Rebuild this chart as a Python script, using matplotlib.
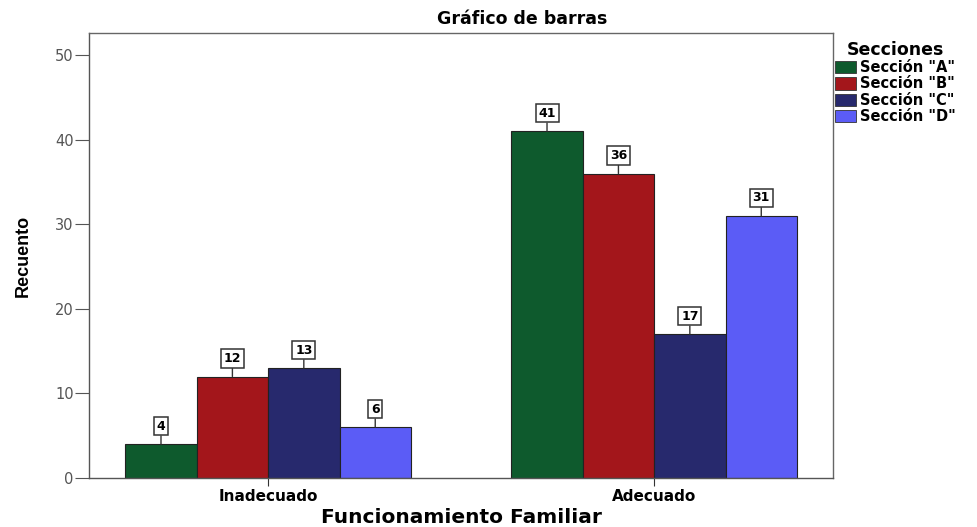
import numpy as np
import matplotlib
matplotlib.use("Agg")
import matplotlib.pyplot as plt
from matplotlib.patches import Patch

plt.rcParams['font.family'] = ['DejaVu Sans']

# data
categorias = ["Inadecuado", "Adecuado"]
secciones = ['Sección "A"', 'Sección "B"', 'Sección "C"', 'Sección "D"']
conteos = [
    [4, 41],   # A
    [12, 36],  # B
    [13, 17],  # C
    [6, 31],   # D
]
colores = ["#0e5a2d", "#a3161b", "#27296d", "#5b5cf6"]
yticks = [0, 10, 20, 30, 40, 50]

fig = plt.figure(figsize=(9.78, 5.27), dpi=100)
ax = fig.add_axes([0.091, 0.093, 0.761, 0.844])

x = np.arange(len(categorias))
ancho = 0.185
for i, (sec, vals, col) in enumerate(zip(secciones, conteos, colores)):
    pos = x + (i - 1.5) * ancho
    ax.bar(pos, vals, width=ancho, color=col, edgecolor="#222222", linewidth=0.8, zorder=2)
    for px, v in zip(pos, vals):
        ax.annotate(str(v), xy=(px, v), xytext=(0, 13), textcoords="offset points",
                    ha="center", va="center", fontsize=9, fontweight="bold",
                    bbox=dict(boxstyle="square,pad=0.22", fc="white", ec="#333333", lw=1.1),
                    arrowprops=dict(arrowstyle="-", color="#333333", lw=1.0,
                                    shrinkA=0, shrinkB=0), zorder=3)

ax.set_xlim(-0.464, 1.464)
ax.set_ylim(0, 52.6)
ax.set_yticks(yticks)
ax.set_xticks(x)
ax.set_xticklabels(categorias, fontweight="bold", fontsize=11)
ax.tick_params(axis="y", labelsize=10.5, labelcolor="#555555", length=10, color="#555555", pad=1)
ax.tick_params(axis="x", length=6, color="#333333", pad=2)
for s in ax.spines.values():
    s.set_color("#666666")
    s.set_linewidth(1.0)
ax.spines["left"].set_color("#555555")
ax.spines["bottom"].set_color("#555555")

fig.text(0.534, 1 - 19 / 527, "Gráfico de barras", fontsize=12.5, fontweight="bold",
         ha="center", va="center")
fig.text(0.4715, 1 - 523 / 527, "Funcionamiento Familiar", fontsize=14.5, fontweight="bold",
         ha="center", va="baseline")
ax.set_ylabel("Recuento", fontsize=13, fontweight="bold",
              family="Liberation Sans", labelpad=17)

handles = [Patch(facecolor=c, edgecolor="#333333", linewidth=0.6) for c in colores]
leg = fig.legend(handles, secciones, loc="upper left", bbox_to_anchor=(0.854, 0.923),
                 frameon=False, title="Secciones", handlelength=1.4, handleheight=0.9,
                 handletextpad=0.3, labelspacing=0.1, borderaxespad=0, borderpad=0.0,
                 prop=dict(weight="bold", size=10.5),
                 title_fontproperties=dict(weight="bold", size=12.5))

fig.savefig("out.png", dpi=100)
